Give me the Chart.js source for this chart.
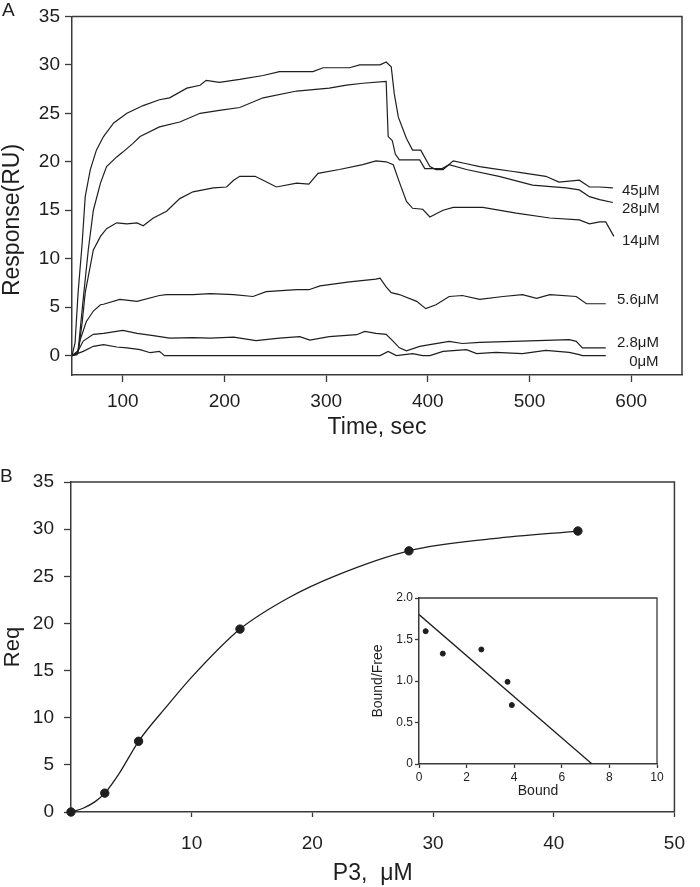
<!DOCTYPE html>
<html>
<head>
<meta charset="utf-8">
<script src="https://cdn.jsdelivr.net/npm/chart.js@4.4.0/dist/chart.umd.min.js"></script>
<style>
    body { margin: 0; background: #fff; }
    #wrap { position: relative; width: 700px; height: 887px; }
    canvas { position: absolute; }
</style>
</head>
<body>
<div id="wrap">
    <canvas id="chartA" width="700" height="441" style="left:0;top:0"></canvas>
    <canvas id="chartB" width="700" height="446" style="left:0;top:441px"></canvas>
    <canvas id="inset" width="310" height="220" style="left:360px;top:585px"></canvas>
</div>
<script>
// Panel A: sensorgrams (time in sec, response in RU)
const t45 = [50, 53, 56, 60, 63, 68, 74, 81, 91, 104, 120, 136, 146, 163, 176, 182, 195, 215, 238, 254, 287, 297, 323, 333, 353, 359, 364, 367, 371, 379, 385, 393, 402, 408, 415, 425, 438, 451, 464, 484, 490, 516, 529, 549, 559, 569, 582];
const r45 = [0, 1.3, 6.5, 11.6, 16.4, 19.2, 21.2, 22.6, 24.0, 25.0, 25.8, 26.4, 26.6, 27.6, 27.9, 28.4, 28.2, 28.5, 28.9, 29.3, 29.3, 29.7, 29.7, 30.0, 30.0, 30.3, 29.8, 27.0, 24.6, 22.4, 21.2, 21.2, 19.5, 19.2, 19.2, 20.1, 19.8, 19.5, 19.3, 19.0, 18.9, 18.5, 17.9, 18.1, 17.4, 17.4, 17.3];
const t28 = [50, 56, 61, 66, 71, 78, 84, 94, 100, 110, 117, 136, 156, 176, 195, 215, 238, 271, 303, 320, 336, 359, 361, 365, 368, 372, 392, 397, 414, 421, 438, 470, 503, 536, 549, 559, 569, 582];
const r28 = [0, 0.5, 5.8, 10.9, 15.0, 17.8, 19.5, 20.5, 21.0, 21.9, 22.6, 23.6, 24.1, 25.0, 25.3, 25.6, 26.6, 27.3, 27.6, 27.9, 28.1, 28.3, 22.6, 22.2, 20.8, 20.2, 20.2, 19.3, 19.3, 19.7, 19.2, 18.5, 17.6, 17.3, 17.1, 16.4, 16.1, 15.8];
const t14 = [50, 56, 60, 63, 71, 78, 84, 94, 104, 114, 120, 130, 143, 156, 169, 189, 202, 209, 215, 230, 238, 251, 271, 283, 292, 313, 336, 349, 359, 366, 372, 379, 385, 395, 402, 415, 425, 454, 487, 520, 549, 559, 569, 575, 583];
const r14 = [0, 0.3, 3.4, 6.5, 10.9, 12.3, 13.1, 13.7, 13.6, 13.7, 13.4, 14.2, 14.9, 16.2, 16.9, 17.3, 17.4, 18.1, 18.5, 18.5, 18.1, 17.4, 17.8, 17.7, 18.8, 19.2, 19.7, 20.1, 20.0, 19.7, 17.9, 15.9, 15.2, 15.1, 14.3, 15.0, 15.3, 15.3, 14.7, 14.2, 14.0, 13.6, 13.8, 13.8, 12.3];
const t5_6 = [50, 55, 58, 64, 71, 78, 81, 97, 114, 136, 143, 169, 186, 209, 228, 241, 271, 283, 294, 323, 349, 353, 359, 364, 372, 389, 398, 408, 421, 434, 451, 474, 493, 507, 520, 546, 556, 575];
const r5_6 = [0, 0.1, 1.6, 3.5, 4.6, 5.25, 5.3, 5.8, 5.6, 6.2, 6.3, 6.3, 6.4, 6.3, 6.1, 6.6, 6.8, 6.8, 7.2, 7.6, 7.9, 8.0, 7.1, 6.5, 6.3, 5.6, 4.85, 5.25, 6.1, 6.2, 5.8, 6.1, 6.3, 5.9, 6.3, 6.1, 5.35, 5.35];
const t2_8 = [50, 55, 61, 71, 81, 100, 114, 130, 146, 169, 186, 209, 231, 254, 274, 284, 303, 330, 338, 349, 359, 366, 372, 379, 392, 402, 421, 434, 451, 484, 516, 539, 546, 552, 575];
const r2_8 = [0, 0.3, 1.5, 2.2, 2.3, 2.6, 2.3, 2.06, 1.8, 1.85, 1.8, 1.9, 1.54, 1.8, 1.95, 1.6, 1.95, 2.16, 2.5, 2.3, 2.2, 1.47, 0.8, 0.5, 0.96, 1.13, 1.47, 1.25, 1.36, 1.47, 1.57, 1.65, 1.47, 0.8, 0.8];
const t0 = [50, 61, 71, 81, 94, 104, 117, 127, 136, 141, 353, 361, 369, 385, 395, 402, 415, 438, 448, 467, 493, 516, 539, 549, 552, 575];
const r0 = [0, 0.44, 0.96, 1.13, 0.89, 0.79, 0.62, 0.3, 0.44, 0, 0, 0.44, 0, 0.2, 0, 0, 0.44, 0.62, 0.2, 0.34, 0.2, 0.55, 0.34, 0.1, 0, 0];

const concNames = ['45μM', '28μM', '14μM', '5.6μM', '2.8μM', '0μM'];
// where each concentration label sits, in axis units (time, RU)
const nameT = [591, 591, 591, 586, 586, 598];
const nameR = [17.0, 15.1, 11.8, 5.8, 1.3, -0.6];

const timeTicks = [100, 200, 300, 400, 500, 600];
const respTicks = [0, 5, 10, 15, 20, 25, 30, 35];

// Panel B: equilibrium response vs P3 concentration
const conc = [0, 2.8, 5.6, 14, 28, 42];
const req = [0, 2.0, 7.5, 19.4, 27.7, 29.8];
// fitted curve
const fitConc = [0, 1, 2, 2.8, 4, 5.6, 8, 10, 14, 18, 22, 28, 35, 42];
const fitReq = [0, 0.4, 1.1, 2.0, 4.1, 7.5, 11.3, 14.3, 19.4, 22.7, 25.1, 27.7, 29.0, 29.8];
const concTicks = [10, 20, 30, 40, 50];
const reqTicks = [0, 5, 10, 15, 20, 25, 30, 35];

// Inset: Scatchard plot
const bound = [0.28, 1.0, 2.62, 3.72, 3.9];
const boundFree = [1.6, 1.33, 1.38, 0.99, 0.71];
const lineBound = [0, 7.27];
const lineRatio = [1.8, 0];
const boundTicks = [0, 2, 4, 6, 8, 10];
const ratioTicks = [0, 0.5, 1, 1.5, 2];

const ink = '#1e1e1e';
const axisInk = '#3a3a3a';
Chart.defaults.font.family = '"Liberation Sans", Arial, sans-serif';
Chart.defaults.color = ink;

const pairs = (xs, ys) => xs.map((x, i) => ({ x: x, y: ys[i] }));
const setTicks = list => scale => { scale.ticks = list.map(v => ({ value: v })); };

// top and right edges of the box
const frame = {
    id: 'frame',
    afterDraw(chart) {
        const { ctx, chartArea: a } = chart;
        const w = chart.options.plugins.frame.width;
        ctx.save();
        ctx.strokeStyle = axisInk;
        ctx.lineWidth = w;
        ctx.beginPath();
        ctx.moveTo(a.left, a.top);
        ctx.lineTo(a.right, a.top);
        ctx.lineTo(a.right, a.bottom);
        ctx.stroke();
        ctx.restore();
    }
};

// panel letters, curve names and the rotated y title of panel A
const notes = {
    id: 'notes',
    afterDraw(chart) {
        const { ctx } = chart;
        const o = chart.options.plugins.notes;
        ctx.save();
        ctx.fillStyle = ink;
        ctx.font = '19px "Liberation Sans", Arial, sans-serif';
        ctx.textBaseline = 'alphabetic';
        ctx.textAlign = 'left';
        ctx.fillText(o.letter, o.letterX, o.letterY);
        if (o.names) {
            const sx = chart.scales.x, sy = chart.scales.y;
            ctx.font = '15px "Liberation Sans", Arial, sans-serif';
            ctx.textBaseline = 'middle';
            o.names.forEach((n, i) => {
                ctx.fillText(n, sx.getPixelForValue(nameT[i]), sy.getPixelForValue(nameR[i]));
            });
        }
        if (o.yTitle) {
            ctx.translate(13, 220);
            ctx.rotate(-Math.PI / 2);
            ctx.font = '23px "Liberation Sans", Arial, sans-serif';
            ctx.textAlign = 'center';
            ctx.fillText(o.yTitle, 0, 0);
        }
        ctx.restore();
    }
};

const axisStyle = (tickLen, size, pad) => ({
    grid: { drawOnChartArea: false, tickLength: tickLen, color: axisInk, tickWidth: 1.3 },
    border: { color: axisInk, width: 1.5 },
    ticks: { font: { size: size }, color: ink, padding: pad, maxRotation: 0, autoSkip: false }
});

// Panel A chart
const seriesT = [t45, t28, t14, t5_6, t2_8, t0];
const seriesR = [r45, r28, r14, r5_6, r2_8, r0];

new Chart(document.querySelector('#chartA'), {
    type: 'line',
    plugins: [frame, notes],
    data: {
        datasets: seriesT.map((ts, i) => ({
            label: concNames[i],
            data: pairs(ts, seriesR[i]),
            borderColor: ink,
            borderWidth: 1.2,
            pointRadius: 0,
            tension: 0,
            fill: false
        }))
    },
    options: {
        responsive: false,
        animation: false,
        layout: { padding: { top: 16, right: 18, left: 0, bottom: 0 } },
        plugins: {
            legend: { display: false },
            tooltip: { enabled: false },
            frame: { width: 1.5 },
            notes: { letter: 'A', letterX: 2, letterY: 16, names: concNames, yTitle: 'Response(RU)' }
        },
        scales: {
            x: {
                type: 'linear', min: 50, max: 650,
                afterBuildTicks: setTicks(timeTicks),
                afterFit: s => { s.height = 66; },
                ...axisStyle(7, 19, 8),
                title: { display: true, text: 'Time, sec', font: { size: 23 }, color: ink, padding: 0 }
            },
            y: {
                min: -2, max: 35,
                afterBuildTicks: setTicks(respTicks),
                afterFit: s => { s.width = 72; },
                ...axisStyle(7, 19, 5)
            }
        }
    }
});

// Panel B chart
new Chart(document.querySelector('#chartB'), {
    type: 'scatter',
    plugins: [frame, notes],
    data: {
        datasets: [
            {
                label: 'Req',
                data: pairs(conc, req),
                backgroundColor: ink,
                borderColor: ink,
                pointRadius: 4.2,
                clip: false,
                order: 0
            },
            {
                label: 'fit',
                data: pairs(fitConc, fitReq),
                showLine: true,
                borderColor: ink,
                borderWidth: 1.3,
                pointRadius: 0,
                cubicInterpolationMode: 'monotone',
                order: 1
            }
        ]
    },
    options: {
        responsive: false,
        animation: false,
        layout: { padding: { top: 41, right: 17, left: 0, bottom: 0 } },
        plugins: {
            legend: { display: false },
            tooltip: { enabled: false },
            frame: { width: 1.5 },
            notes: { letter: 'B', letterX: 0, letterY: 41 }
        },
        scales: {
            x: {
                type: 'linear', min: 0, max: 50,
                afterBuildTicks: setTicks(concTicks),
                afterFit: s => { s.height = 75; },
                ...axisStyle(5, 19, 15),
                title: { display: true, text: 'P3,  μM', font: { size: 23 }, color: ink, padding: 0 }
            },
            y: {
                min: 0, max: 35,
                afterBuildTicks: setTicks(reqTicks),
                afterFit: s => { s.width = 71; },
                ...axisStyle(7, 19, 10),
                title: { display: true, text: 'Req', font: { size: 22 }, color: ink, padding: 0 }
            }
        }
    }
});

// Inset chart
new Chart(document.querySelector('#inset'), {
    type: 'scatter',
    plugins: [frame],
    data: {
        datasets: [
            {
                label: 'Bound/Free',
                data: pairs(bound, boundFree),
                backgroundColor: ink,
                borderColor: ink,
                pointRadius: 2.5
            },
            {
                label: 'linear fit',
                data: pairs(lineBound, lineRatio),
                showLine: true,
                borderColor: ink,
                borderWidth: 1.3,
                pointRadius: 0
            }
        ]
    },
    options: {
        responsive: false,
        animation: false,
        layout: { padding: { top: 13, right: 13, left: 0, bottom: 0 } },
        plugins: {
            legend: { display: false },
            tooltip: { enabled: false },
            frame: { width: 1.3 }
        },
        scales: {
            x: {
                type: 'linear', min: 0, max: 10,
                afterBuildTicks: setTicks(boundTicks),
                afterFit: s => { s.height = 41; },
                ...axisStyle(4, 12, 2),
                title: { display: true, text: 'Bound', font: { size: 14 }, color: ink, padding: { top: 0, bottom: 5 } }
            },
            y: {
                min: 0, max: 2,
                afterBuildTicks: setTicks(ratioTicks),
                afterFit: s => { s.width = 59; },
                ...axisStyle(4, 12, 2),
                ticks: {
                    font: { size: 12 }, color: ink, padding: 2, autoSkip: false,
                    callback: v => (v === 0 ? '0' : v.toFixed(1))
                },
                title: { display: true, text: 'Bound/Free', font: { size: 14 }, color: ink, padding: { top: 10, bottom: 0 } }
            }
        }
    }
});
</script>
</body>
</html>
